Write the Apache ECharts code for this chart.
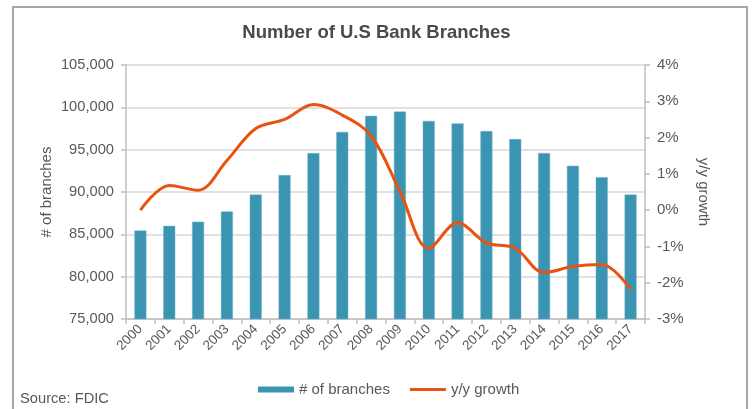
<!DOCTYPE html>
<html>
<head>
<meta charset="utf-8">
<script src="https://cdn.jsdelivr.net/npm/echarts@6/dist/echarts.min.js"></script>
<style>html,body{margin:0;padding:0;background:#fff}#c{width:753px;height:409px}</style>
</head>
<body>
<div id="c"></div>
<script>
const years = ['2000','2001','2002','2003','2004','2005','2006','2007','2008','2009','2010','2011','2012','2013','2014','2015','2016','2017'];
const branches = [85450, 86000, 86500, 87700, 89700, 92000, 94600, 97100, 99000, 99500, 98400, 98100, 97200, 96250, 94600, 93100, 91750, 89700];
const growth = [0.0, 0.68, 0.55, 1.37, 2.25, 2.5, 2.91, 2.62, 2.05, 0.52, -1.05, -0.35, -0.9, -1.05, -1.72, -1.55, -1.5, -2.18];
const leftTicks = {min: 75000, max: 105000, interval: 5000};
const rightTicks = {min: -3, max: 4, interval: 1};

const FONT = '"Liberation Sans", Arial, sans-serif';
const GRAY = '#595959';
const BAR = '#3c94b3';
const LINE = '#e8540f';
const chart = echarts.init(document.getElementById('c'), null, {renderer: 'canvas'});
chart.setOption({
  animation: false,
  textStyle: {fontFamily: FONT},
  title: {
    text: 'Number of U.S Bank Branches',
    left: 'center', top: 18,
    textStyle: {fontFamily: FONT, fontSize: 18.5, fontWeight: 'bold', color: '#4a4a4a'}
  },
  graphic: [
    {type: 'polyline', shape: {points: [[13, 415], [13, 7], [747, 7], [747, 415]]},
     style: {stroke: '#a6a6a6', lineWidth: 2, fill: null}},
    {type: 'text', left: 20, top: 391,
     style: {text: 'Source: FDIC', fontFamily: FONT, fontSize: 14.7, fill: GRAY}}
  ],
  legend: {
    top: 377, left: 253, itemGap: 20,
    textStyle: {fontFamily: FONT, fontSize: 15, color: GRAY},
    data: [
      {name: '# of branches', icon: 'rect', itemStyle: {color: BAR, borderWidth: 0}},
      {name: 'y/y growth', icon: 'path://M0,0 L36,0 L36,3 L0,3 Z', itemStyle: {color: LINE, borderWidth: 0}}
    ],
    itemWidth: 36, itemHeight: 6
  },
  grid: {left: 126, right: 108, top: 65, bottom: 90, containLabel: false},
  xAxis: {
    type: 'category', data: years,
    axisLine: {onZero: false, lineStyle: {color: '#bfbfbf', width: 1.5}},
    axisTick: {show: true, alignWithLabel: false, length: 5, lineStyle: {color: '#bfbfbf', width: 1.5}},
    axisLabel: {rotate: 45, fontFamily: FONT, fontSize: 13.5, color: GRAY, margin: 8, interval: 0}
  },
  yAxis: [
    {
      type: 'value', min: leftTicks.min, max: leftTicks.max, interval: leftTicks.interval,
      name: '# of branches', nameLocation: 'middle', nameGap: 72, nameRotate: 90, nameMoveOverlap: false,
      nameTextStyle: {fontFamily: FONT, fontSize: 15, color: GRAY},
      axisLine: {show: true, lineStyle: {color: '#bfbfbf', width: 1.5}},
      axisTick: {show: true, length: 5, lineStyle: {color: '#bfbfbf', width: 1.5}},
      axisLabel: {fontFamily: FONT, fontSize: 14.7, color: GRAY, margin: 12,
        formatter: v => v.toLocaleString('en-US')},
      splitLine: {lineStyle: {color: '#d9d9d9', width: 1.5}}
    },
    {
      type: 'value', position: 'right', min: rightTicks.min, max: rightTicks.max, interval: rightTicks.interval,
      name: 'y/y growth', nameLocation: 'middle', nameGap: 51, nameRotate: -90, nameMoveOverlap: false,
      nameTextStyle: {fontFamily: FONT, fontSize: 15, color: GRAY},
      axisLine: {show: true, lineStyle: {color: '#bfbfbf', width: 1.5}},
      axisTick: {show: true, length: 5, lineStyle: {color: '#bfbfbf', width: 1.5}},
      axisLabel: {fontFamily: FONT, fontSize: 15, color: GRAY, margin: 12, formatter: '{value}%'},
      splitLine: {show: false}
    }
  ],
  series: [
    {name: '# of branches', type: 'bar', data: branches, barWidth: 12, yAxisIndex: 0,
     itemStyle: {color: BAR, borderColor: '#6fb3cb', borderWidth: 0.5}},
    {name: 'y/y growth', type: 'line', data: growth, yAxisIndex: 1, smooth: 0.35,
     showSymbol: false, symbol: 'none', lineStyle: {color: LINE, width: 3}, itemStyle: {color: LINE}}
  ]
});
</script>
</body>
</html>
